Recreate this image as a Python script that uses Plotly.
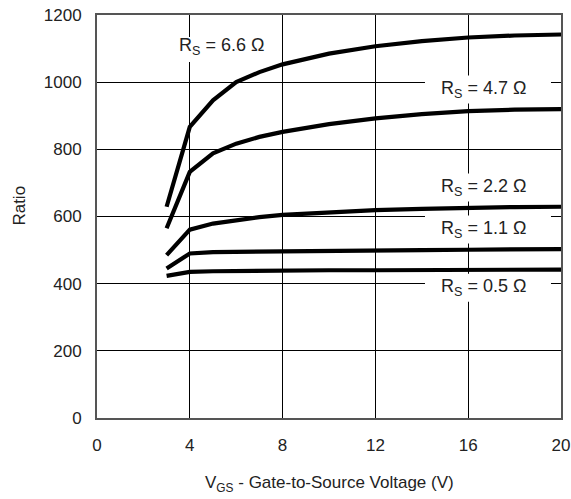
import plotly.graph_objects as go

vgs = [3, 4, 5, 6, 7, 8, 10, 12, 14, 16, 18, 20]
ratio_66 = [629, 867, 946, 1000, 1030, 1053, 1085, 1107, 1122, 1133, 1139, 1142]
ratio_47 = [565, 733, 788, 817, 837, 852, 875, 892, 905, 914, 918, 920]
ratio_22 = [485, 561, 579, 590, 598, 605, 613, 619, 623, 627, 628, 629]
ratio_11 = [445, 490, 494, 495, 496, 497, 498, 499, 500, 501, 502, 503]
ratio_05 = [423, 435, 437, 438, 439, 440, 440, 440, 441, 441, 442, 442]

series = [ratio_66, ratio_47, ratio_22, ratio_11, ratio_05]

label_text = ["R<sub>S</sub> = 6.6 Ω", "R<sub>S</sub> = 4.7 Ω", "R<sub>S</sub> = 2.2 Ω",
              "R<sub>S</sub> = 1.1 Ω", "R<sub>S</sub> = 0.5 Ω"]
label_x = [5.36, 16.68, 16.68, 16.68, 16.68]
label_y = [1105, 978, 686, 561, 388]

x_ticks = [0, 4, 8, 12, 16, 20]
y_ticks = [0, 200, 400, 600, 800, 1000, 1200]

x_title = "V<sub>GS</sub> - Gate-to-Source Voltage (V)"
y_title = "Ratio"

FONT = "Liberation Sans, Arial, sans-serif"
TXT = "#222"

fig = go.Figure()
for ys in series:
    fig.add_trace(go.Scatter(x=vgs, y=ys, mode="lines",
                             line=dict(color="black", width=4.2),
                             showlegend=False, hoverinfo="skip"))

shapes = []
annotations = []
for i, (t, lx, ly) in enumerate(zip(label_text, label_x, label_y)):
    if i == 0:
        bx0, bx1, by0, by1 = -50, 52, -15, 10
    else:
        bx0, bx1, by0, by1 = -59, 67, -14, 14
    shapes.append(dict(type="rect", xref="x", yref="y",
                       xsizemode="pixel", ysizemode="pixel",
                       xanchor=lx, yanchor=ly,
                       x0=bx0, x1=bx1, y0=by0, y1=by1,
                       fillcolor="white", line=dict(width=0),
                       layer="between"))
    annotations.append(dict(x=lx, y=ly, xref="x", yref="y", text=t,
                            showarrow=False,
                            font=dict(family=FONT, size=18, color=TXT)))

annotations.append(dict(x=-0.169, y=0.526, xref="paper", yref="paper",
                        text=y_title, textangle=-90, showarrow=False,
                        xanchor="center", yanchor="middle",
                        font=dict(family=FONT, size=17, color=TXT)))
annotations.append(dict(x=0.5, y=-0.163, xref="paper", yref="paper",
                        text=x_title, showarrow=False,
                        xanchor="center", yanchor="middle",
                        font=dict(family=FONT, size=17, color=TXT)))

fig.update_layout(
    width=571, height=499,
    margin=dict(l=97, r=10, t=15, b=81, autoexpand=False),
    paper_bgcolor="white", plot_bgcolor="white",
    shapes=shapes, annotations=annotations,
    font=dict(family=FONT, size=17, color=TXT),
)
fig.update_xaxes(range=[0, 20], tickvals=x_ticks, ticks="", showgrid=True,
                 gridcolor="black", gridwidth=1, zeroline=False,
                 showline=True, linecolor="#555", linewidth=2, mirror=True,
                 ticklabelstandoff=11, automargin=False,
                 tickfont=dict(family=FONT, size=17, color=TXT))
fig.update_yaxes(range=[0, 1200], tickvals=y_ticks, ticks="", showgrid=True,
                 gridcolor="black", gridwidth=1, zeroline=False,
                 showline=True, linecolor="#555", linewidth=2, mirror=True,
                 ticklabelstandoff=10, automargin=False,
                 tickfont=dict(family=FONT, size=17, color=TXT))

fig.write_html("out.html", config={"displayModeBar": False},
               post_script="document.body.style.margin='0px';document.body.style.overflow='hidden';")
